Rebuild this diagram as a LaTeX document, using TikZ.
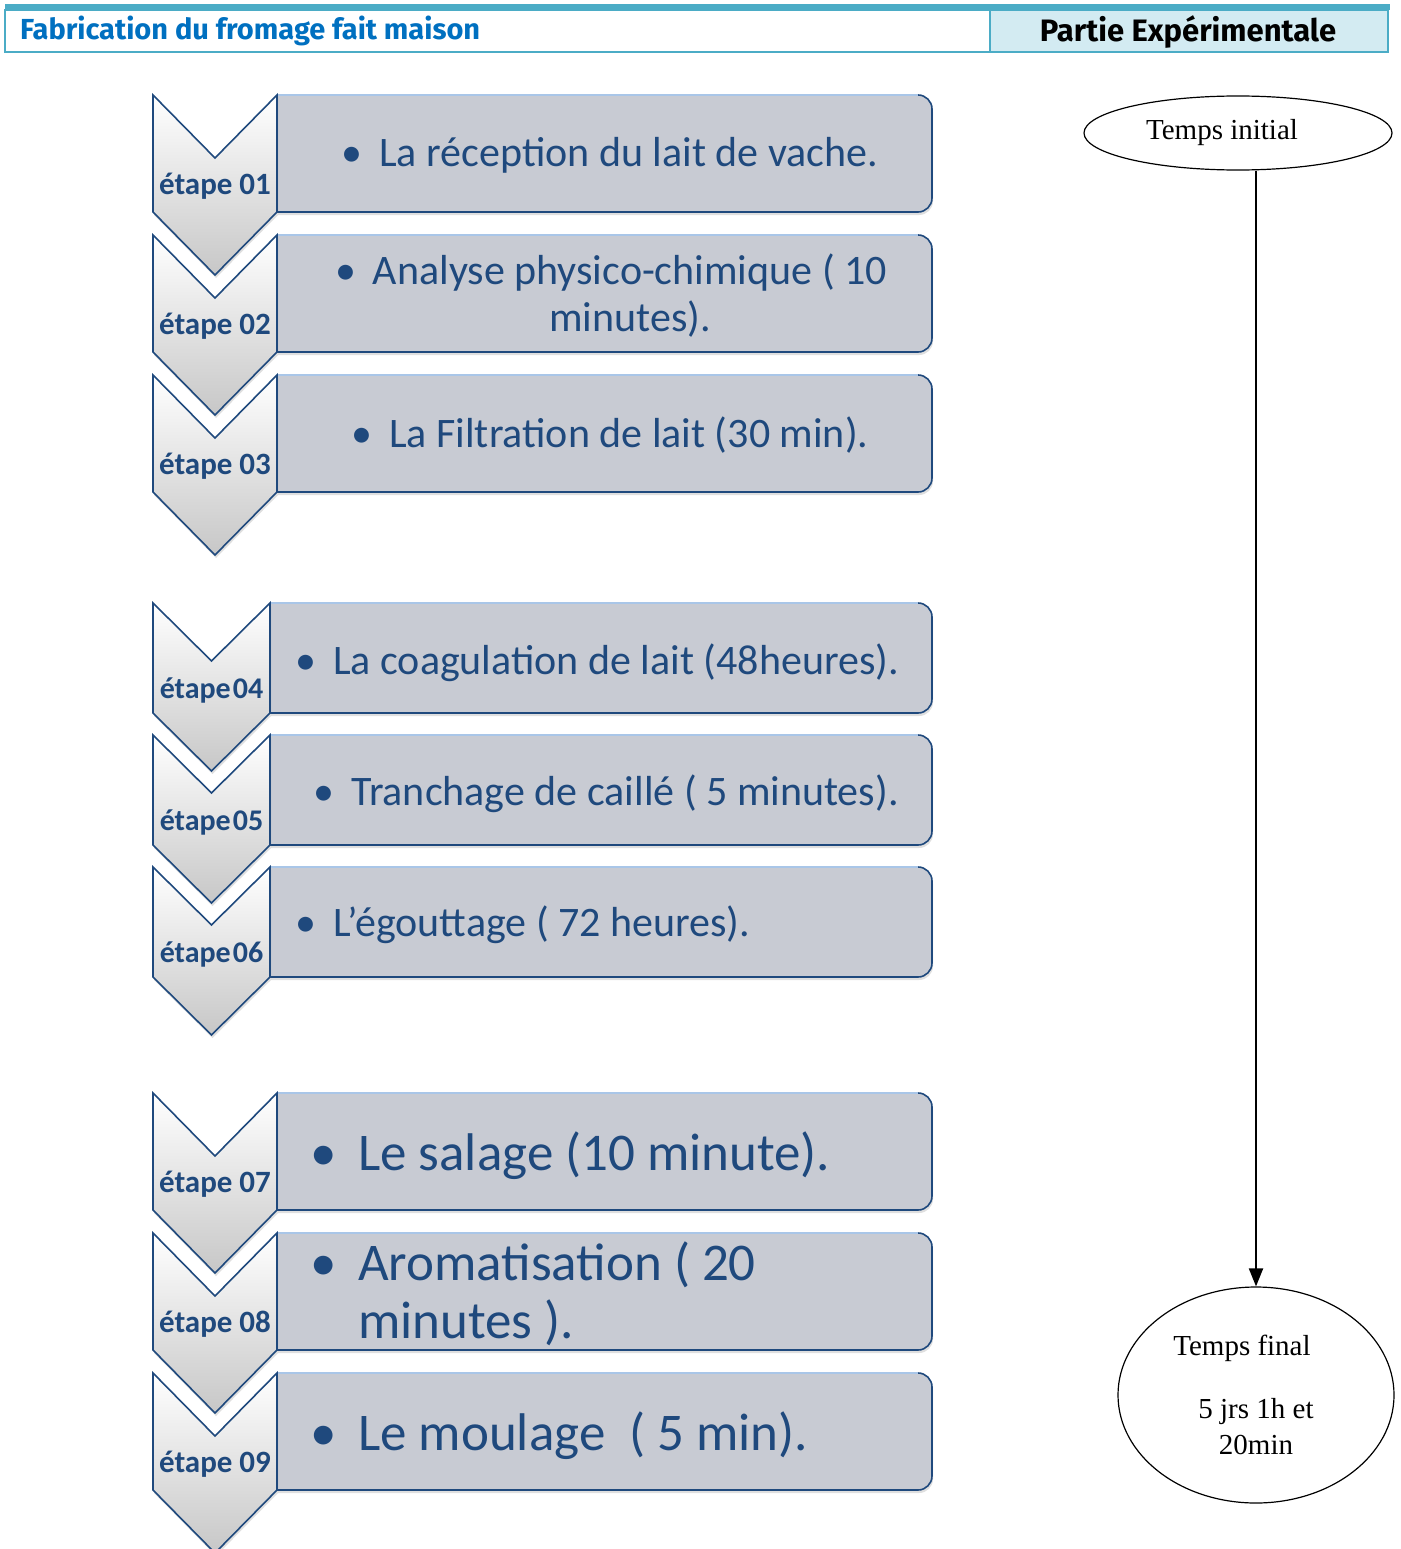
\documentclass[tikz,border=0pt]{standalone}
\usepackage{fontspec}
\setmainfont{Carlito}
\newfontfamily\serifont{Liberation Serif}
\newfontfamily\headfont{Fira Sans}
\usetikzlibrary{shapes.geometric,arrows.meta,shadows}

\definecolor{stepblue}{HTML}{1F497D}
\definecolor{boxgray}{HTML}{C8CBD3}
\definecolor{edgelight}{HTML}{A9C6E8}
\definecolor{headteal}{HTML}{4BACC6}
\definecolor{headfill}{HTML}{D3EBF2}
\definecolor{headblue}{HTML}{0070C0}

\newcommand\itm{\llap{\textbullet\hspace{0.4em}}}

\begin{document}
\begin{tikzpicture}[
      x=1pt, y=-1pt,
      chev/.style={
        draw=stepblue,
        line width=1.6pt,
        line join=miter,
        top color=white,
        bottom color=black!22,
        drop shadow={opacity=.25, shadow xshift=1pt, shadow yshift=-3pt}
      },
      boxshape/.style={
        draw=stepblue,
        line width=1.6pt,
        fill=boxgray,
        rounded corners=14pt,
        drop shadow={opacity=.25, shadow xshift=1pt, shadow yshift=-3pt}
      },
      boxtop/.style={
        draw=edgelight,
        line width=2pt
      },
      lbl/.style={
        font=\bfseries\fontsize{31}{31}\selectfont,
        text=stepblue,
        inner sep=0pt,
        anchor=base
      },
      itemtxt/.style={
        font=\fontsize{42}{47}\selectfont,
        text=stepblue,
        inner sep=0pt
      },
      bigtxt/.style={
        font=\fontsize{53}{58}\selectfont,
        text=stepblue,
        inner sep=0pt
      },
      timenode/.style={
        ellipse,
        draw,
        line width=1.2pt,
        font=\serifont\fontsize{29}{36}\selectfont,
        inner sep=0pt
      }
    ]
      \useasboundingbox (0,0) rectangle (1400,1549);

      % header
      \fill[headteal] (5,4) rectangle (1390,10);
      \fill[headfill] (990,10) rectangle (1388,52);
      \draw[headteal, line width=2pt] (5,10) rectangle (1388,52);
      \draw[headteal, line width=1.5pt] (990,10) -- (990,52);
      \node[font=\headfont\bfseries\fontsize{29}{29}\selectfont, text=headblue,
        anchor=base west, inner sep=0pt] (titre) at (20,40)
        {Fabrication du fromage fait maison};
      \node[font=\headfont\bfseries\fontsize{31}{31}\selectfont,
        anchor=base, inner sep=0pt] (partie) at (1188,42)
        {Partie Expérimentale};

      % groupe 1
      \foreach \t/\n in {95/01,235/02,375/03} {
        \path[boxshape] (277,\t) -- (932,\t) -- (932,\t+117) -- (277,\t+117);
        \draw[boxtop] (278,\t) -- (918,\t);
        \path[chev] (153,\t) -- (215,\t+63) -- (277,\t) -- (277,\t+117)
          -- (215,\t+180) -- (153,\t+117) -- cycle;
        \node[lbl] (e\n) at (215,\t+99) {étape \n};
      }

      % groupe 2
      \foreach \t/\n in {603/04,735/05,867/06} {
        \path[boxshape] (270,\t) -- (932,\t) -- (932,\t+110) -- (270,\t+110);
        \draw[boxtop] (271,\t) -- (918,\t);
        \path[chev] (153,\t) -- (211.5,\t+58) -- (270,\t) -- (270,\t+110)
          -- (211.5,\t+168) -- (153,\t+110) -- cycle;
        \node[lbl, font=\bfseries\fontsize{30}{30}\selectfont] (e\n) at (211.5,\t+95)
          {étape\hspace{2pt}\n};
      }

      % groupe 3
      \foreach \t/\n in {1093/07,1233/08,1373/09} {
        \path[boxshape] (277,\t) -- (932,\t) -- (932,\t+117) -- (277,\t+117);
        \draw[boxtop] (278,\t) -- (918,\t);
        \path[chev] (153,\t) -- (215,\t+63) -- (277,\t) -- (277,\t+117)
          -- (215,\t+180) -- (153,\t+117) -- cycle;
        \node[lbl] (e\n) at (215,\t+99) {étape \n};
      }

      \node[itemtxt, anchor=base west] (t1) at (379,167)
        {\itm La réception du lait de vache.};
      \node[itemtxt, align=center, anchor=base] (t2) at (630,331)
        {\itm Analyse physico-chimique ( 10\\minutes).};
      \node[itemtxt, anchor=base west] (t3) at (389,447)
        {\itm La Filtration de lait (30 min).};

      \node[itemtxt, anchor=base west] (t4) at (333,674)
        {\itm La coagulation de lait (48heures).};
      \node[itemtxt, anchor=base west] (t5) at (351,805)
        {\itm Tranchage de caillé ( 5 minutes).};
      \node[itemtxt, anchor=base west] (t6) at (333,936)
        {\itm L’égouttage ( 72 heures).};

      \node[bigtxt, anchor=base west] (t7) at (358,1170)
        {\itm Le salage (10 minute).};
      \node[bigtxt, align=left, anchor=base west] (t8) at (358,1338)
        {\itm Aromatisation ( 20\\minutes ).};
      \node[bigtxt, anchor=base west] (t9) at (358,1450)
        {\itm Le moulage \ ( 5 min).};

      % temps
      \node[timenode, minimum width=308pt, minimum height=74pt] (tini)
        at (1238,133) {Temps initial\kern32pt};
      \node[timenode, minimum width=276pt, minimum height=216pt, align=center]
        (tfin) at (1256,1395) {Temps final\kern28pt\\[27pt]5 jrs 1h et\\20min};

      \draw[-{Triangle[length=18pt,width=14pt]}, line width=2pt]
        (tini.south -| tfin.north) -- (tfin.north);
    \end{tikzpicture}
\end{document}
